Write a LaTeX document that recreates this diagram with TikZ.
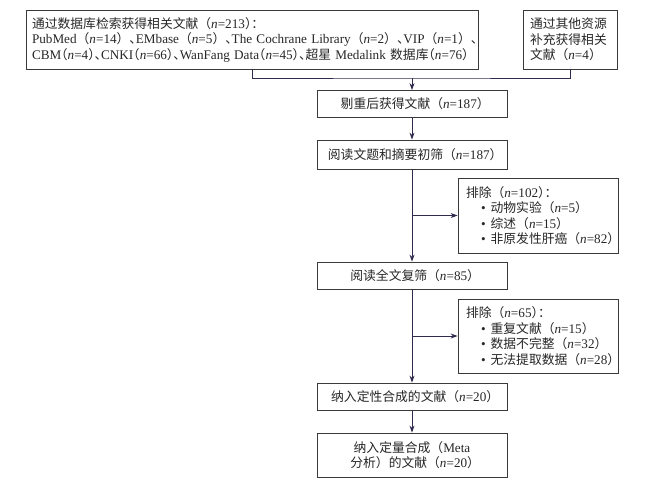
\documentclass[tikz,border=0pt]{standalone}
\usepackage{fontspec}
\setmainfont{Noto Sans CJK SC}
\newfontfamily\halffont[RawFeature=+halt]{Noto Sans CJK SC}
\newfontfamily\latfont[Scale=1.03]{Liberation Serif}
\usetikzlibrary{arrows.meta}

\definecolor{linecol}{RGB}{50,42,78}
\definecolor{boxcol}{RGB}{58,58,58}
\newcommand{\en}[1]{{\latfont #1}}
\newcommand{\nn}[1]{{\latfont\textit{n}=#1}}
\newcommand{\hw}[1]{{\halffont #1}}
\newcommand{\pn}[1]{（\nn{#1}\hw{）}}
\newcommand{\itm}[1]{\hspace*{15pt}\mbox{{\latfont\textbullet}\kern5pt #1}}

\begin{document}
\begin{tikzpicture}[x=1pt, y=-1pt,
    every node/.style={font=\fontsize{12.8pt}{15.5pt}\selectfont, text=black!85},
    box/.style={draw=boxcol, line width=0.8pt, inner sep=0pt, align=center},
    line/.style={draw=linecol, line width=0.9pt},
    arr/.style={line, -{Stealth[length=7pt,width=5pt]}}]
    \useasboundingbox (0,0) rectangle (656,482);

    % sources
    \node[box, minimum width=452pt, minimum height=59pt, text width=440pt, align=left] (db) at (252,39.5)
        {通过数据库检索获得相关文献\pn{213}\hw{：}\\
         \mbox{\en{PubMed}（\nn{14}）\hw{、}\en{EMbase}（\nn{5}）\hw{、}\en{The Cochrane Library}（\nn{2}）\hw{、}\en{VIP}（\nn{1}）\hw{、}}\\
         \mbox{\en{CBM}\hw{（}\nn{4}\hw{）、}\en{CNKI}\hw{（}\nn{66}\hw{）、}\en{WanFang Data}\hw{（}\nn{45}\hw{）、}超星 \en{Medalink} 数据库\hw{（}\nn{76}\hw{）}}};
    \node[box, minimum width=94pt, minimum height=59pt, text width=80pt, align=left] (other) at (570,39.5)
        {通过其他资源\\补充获得相关\\文献\pn{4}};

    % main flow
    \node[box, minimum width=190pt, minimum height=27pt] (dedup) at (412,104) {剔重后获得文献\pn{187}};
    \node[box, minimum width=190pt, minimum height=29pt] (screen) at (412,154.5) {阅读文题和摘要初筛\pn{187}};
    \node[box, minimum width=190pt, minimum height=27pt] (full) at (412,275.5) {阅读全文复筛\pn{85}};
    \node[box, minimum width=190pt, minimum height=27pt] (qual) at (412,396.5) {纳入定性合成的文献\pn{20}};
    \node[box, minimum width=190pt, minimum height=44pt] (quant) at (412,455)
        {纳入定量合成（\en{Meta}\\分析）的文献\pn{20}};

    % exclusions
    \node[box, minimum width=160pt, minimum height=75pt, text width=144pt, align=left] (excl1) at (538,215.5)
        {排除\pn{102}\hw{：}\\
         \itm{动物实验\pn{5}}\\
         \itm{综述\pn{15}}\\
         \itm{非原发性肝癌\pn{82}}};
    \node[box, minimum width=160pt, minimum height=74pt, text width=144pt, align=left] (excl2) at (538,336)
        {排除\pn{65}\hw{：}\\
         \itm{重复文献\pn{15}}\\
         \itm{数据不完整\pn{32}}\\
         \itm{无法提取数据\pn{28}}};

    \coordinate (join) at (412,78);
    \draw[line] (db.south) |- (join) -| (other.south);
    \draw[arr] (join) -- (dedup.north);
    \draw[arr] (dedup) -- (screen);
    \draw[arr] (screen) -- (full);
    \draw[arr] (screen.south |- excl1.west) -- (excl1.west);
    \draw[arr] (full) -- (qual);
    \draw[arr] (full.south |- excl2.west) -- (excl2.west);
    \draw[arr] (qual) -- (quant);
\end{tikzpicture}
\end{document}
